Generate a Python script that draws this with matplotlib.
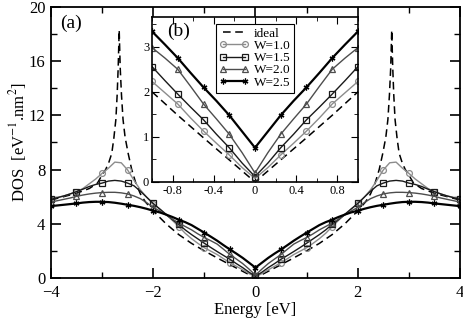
import numpy as np
import matplotlib
matplotlib.use("Agg")
import matplotlib.pyplot as plt

plt.rcParams['font.family'] = ['Liberation Serif', 'DejaVu Serif']
plt.rcParams['mathtext.fontset'] = 'stix'

# energies (eV), positive half, curves are mirrored around E=0
energy = [0, 0.125, 0.25, 0.375, 0.5, 0.625, 0.75, 0.875, 1.0, 1.125, 1.25, 1.375,
          1.5, 1.625, 1.75, 1.875, 2.0, 2.125, 2.25, 2.375, 2.5, 2.625, 2.75, 2.875,
          3.0, 3.125, 3.25, 3.375, 3.5, 3.625, 3.75, 3.875, 4.0]

dos_w10 = [0.08, 0.32, 0.60, 0.86, 1.13, 1.42, 1.73, 1.98, 2.23, 2.55, 2.90, 3.30,
           3.79, 4.25, 4.70, 5.10, 5.45, 5.95, 6.50, 7.20, 7.97, 8.50, 8.55, 8.10,
           7.72, 7.30, 6.95, 6.60, 6.37, 6.20, 6.05, 5.95, 5.85]
dos_w15 = [0.12, 0.42, 0.76, 1.06, 1.38, 1.66, 1.95, 2.25, 2.56, 2.88, 3.20, 3.55,
           3.95, 4.30, 4.70, 5.10, 5.50, 5.95, 6.40, 6.80, 7.00, 7.15, 7.20, 7.15,
           7.00, 6.90, 6.75, 6.55, 6.37, 6.20, 6.05, 5.92, 5.80]
dos_w20 = [0.20, 0.65, 1.06, 1.40, 1.73, 2.12, 2.50, 2.75, 2.98, 3.25, 3.55, 3.80,
           4.05, 4.35, 4.65, 4.95, 5.20, 5.55, 5.85, 6.05, 6.20, 6.28, 6.32, 6.32,
           6.30, 6.26, 6.20, 6.12, 6.02, 5.90, 5.80, 5.70, 5.60]
dos_w25 = [0.76, 1.12, 1.48, 1.80, 2.10, 2.42, 2.75, 3.05, 3.34, 3.62, 3.90, 4.12,
           4.30, 4.50, 4.68, 4.84, 4.96, 5.10, 5.22, 5.32, 5.40, 5.48, 5.55, 5.60,
           5.62, 5.62, 5.60, 5.56, 5.50, 5.45, 5.40, 5.35, 5.30]

energy_ideal = [0, 0.25, 0.5, 0.75, 1.0, 1.25, 1.5, 1.75, 2.0, 2.15, 2.25, 2.34, 2.42,
                2.49, 2.55, 2.59, 2.62, 2.645, 2.665, 2.685, 2.705, 2.73, 2.77, 2.81,
                2.87, 2.93, 3.0, 3.09, 3.25, 3.5, 3.75, 4.0]
dos_ideal = [0, 0.49, 0.98, 1.48, 2.0, 2.55, 3.2, 4.0, 4.95, 5.6, 6.2, 7.0, 8.0,
             9.2, 10.4, 11.7, 13.5, 15.5, 18.3, 15.5, 13.5, 11.7, 10.3, 9.2,
             8.5, 8.0, 7.6, 7.0, 6.6, 6.25, 6.0, 5.75]

labels = ['W=1.0', 'W=1.5', 'W=2.0', 'W=2.5']


def mirror(x, y):
    x = np.asarray(x)
    y = np.asarray(y)
    return np.concatenate([-x[::-1], x[1:]]), np.concatenate([y[::-1], y[1:]])


series = [(dos_w10, '#8c8c8c', 'o', 1.0),
          (dos_w15, '#1a1a1a', 's', 1.0),
          (dos_w20, '#4d4d4d', '^', 1.0),
          (dos_w25, 'black', (6, 2, 0), 1.6)]

fig = plt.figure(figsize=(4.63, 3.18), dpi=100)
ax = fig.add_axes([0.110, 0.126, 0.8835, 0.852])

xi, yi = mirror(energy_ideal, dos_ideal)
ax.plot(xi, yi, color='black', ls=(0, (5, 3)), lw=1.1)
for vals, col, mk, lw in series:
    xs, ys = mirror(energy, vals)
    ax.plot(xs, ys, color=col, lw=lw, marker=mk, markevery=4, ms=4.2,
            mfc='none', mec=col, mew=0.9)

ax.set_xlim(-4, 4)
ax.set_ylim(0, 20)
ax.set_xticks([-4, -2, 0, 2, 4])
ax.set_xticks([-3, -1, 1, 3], minor=True)
ax.set_yticks([0, 4, 8, 12, 16, 20])
ax.set_yticks([2, 6, 10, 14, 18], minor=True)
ax.tick_params(which='both', direction='in', top=True, right=True, labelsize=12)
ax.tick_params(axis='x', pad=5)
ax.tick_params(axis='y', pad=4)
ax.tick_params(which='major', length=7, width=1.2)
ax.tick_params(which='minor', length=4, width=1.0)
for s in ax.spines.values():
    s.set_linewidth(1.3)
ax.set_xlabel('Energy [eV]', fontsize=12, labelpad=1)
ax.set_ylabel(r'DOS  [eV$^{-1}$.nm$^{2}$]', fontsize=12, labelpad=0)
ax.text(0.022, 0.97, '(a)', transform=ax.transAxes, fontsize=14, va='top')

# inset
axin = fig.add_axes([0.3283, 0.4277, 0.4449, 0.5189])
axin.plot(xi, yi, color='black', ls=(0, (5, 3)), lw=1.1, label='ideal')
for (vals, col, mk, lw), lab in zip(series, labels):
    xs, ys = mirror(energy, vals)
    axin.plot(xs, ys, color=col, lw=lw, marker=mk, markevery=2, ms=4.2,
              mfc='none', mec=col, mew=0.9, label=lab)
axin.set_xlim(-1, 1)
axin.set_ylim(0, 3.66)
axin.set_xticks([-0.8, -0.4, 0, 0.4, 0.8])
axin.set_xticklabels(['-0.8', '-0.4', '0', '0.4', '0.8'])
axin.set_xticks(np.arange(-1, 1.01, 0.2), minor=True)
axin.set_yticks([0, 1, 2, 3])
axin.set_yticks([0.5, 1.5, 2.5, 3.5], minor=True)
axin.tick_params(which='both', direction='in', top=True, right=True, labelsize=9, pad=2)
axin.tick_params(which='major', length=5)
axin.tick_params(which='minor', length=3)
for s in axin.spines.values():
    s.set_linewidth(1.2)
axin.text(0.075, 0.965, '(b)', transform=axin.transAxes, fontsize=14, va='top')
leg = axin.legend(loc='upper center', bbox_to_anchor=(0.5, 1.0), fontsize=9.5,
                  numpoints=2, handlelength=2.2, handletextpad=0.4,
                  labelspacing=0.0, borderpad=0.3, fancybox=False, framealpha=1)
leg.get_frame().set_edgecolor('black')
leg.get_frame().set_linewidth(0.8)

fig.savefig('out.png', dpi=100)
